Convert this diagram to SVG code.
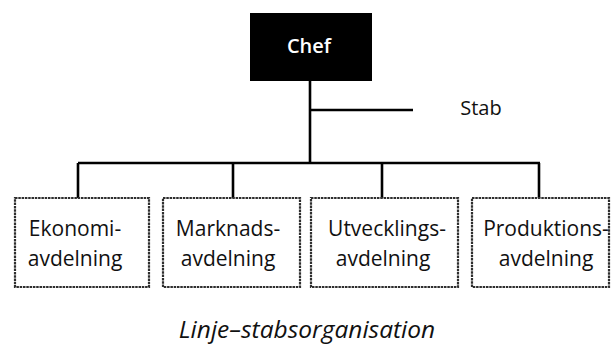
<svg xmlns="http://www.w3.org/2000/svg" width="611" height="349" viewBox="0 0 611 349">
<style>
.box{fill:#fff;stroke:#2e2e2e;stroke-width:2.2;stroke-dasharray:2.5 0.8}
.t{font-family:"Open Sans","Liberation Sans",sans-serif;font-size:21px;fill:#111;text-anchor:middle}
.ln{stroke:#000;stroke-width:2.6;fill:none}
</style>
<rect width="611" height="349" fill="#fff"/>
<g id="connectors">
<path class="ln" d="M310 81V163M310 110H413M78 163H540M78 163V198M233 163V198M382 163V198M539 163V198"/>
</g>
<g id="chef">
<rect x="250" y="13" width="122" height="68" fill="#000"/>
<text x="309" y="53" style="font-family:'Open Sans','Liberation Sans',sans-serif;font-size:20px;font-weight:600;fill:#fff;text-anchor:middle">Chef</text>
</g>
<g id="stab">
<text x="481" y="115" class="t" style="font-size:20px">Stab</text>
</g>
<g id="ekonomi">
<rect class="box" x="15" y="198" width="134" height="89"/>
<text class="t" x="75" y="236">Ekonomi-</text>
<text class="t" x="75" y="266">avdelning</text>
</g>
<g id="marknad">
<rect class="box" x="163" y="198" width="137" height="89"/>
<text class="t" x="228" y="236">Marknads-</text>
<text class="t" x="228" y="266">avdelning</text>
</g>
<g id="utveckling">
<rect class="box" x="311" y="198" width="147" height="89"/>
<text class="t" x="387" y="236">Utvecklings-</text>
<text class="t" x="383" y="266">avdelning</text>
</g>
<g id="produktion">
<rect class="box" x="472" y="198" width="137" height="89"/>
<text class="t" x="546" y="236">Produktions-</text>
<text class="t" x="546" y="266">avdelning</text>
</g>
<g id="caption">
<text x="307" y="338" style="font-family:'Open Sans','Liberation Sans',sans-serif;font-size:24.5px;font-style:italic;fill:#111;text-anchor:middle">Linje–stabsorganisation</text>
</g>
</svg>
